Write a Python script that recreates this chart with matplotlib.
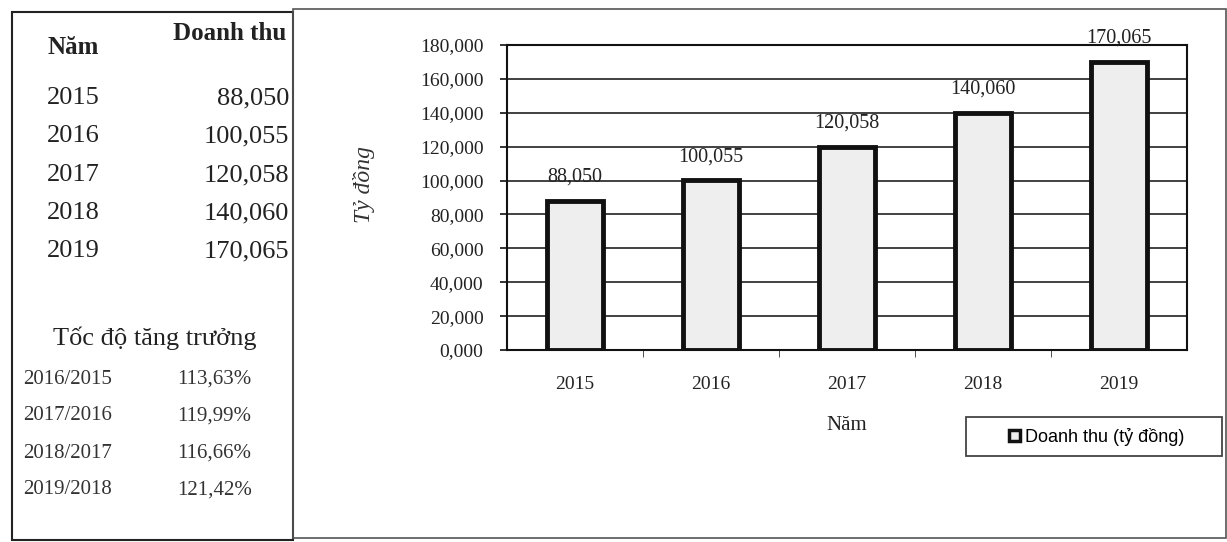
import matplotlib
matplotlib.use("Agg")
import matplotlib.pyplot as plt
from matplotlib.patches import Rectangle
from matplotlib.ticker import FuncFormatter, MultipleLocator

years = ["2015", "2016", "2017", "2018", "2019"]
revenue = [88.050, 100.055, 120.058, 140.060, 170.065]
revenue_labels = ["88,050", "100,055", "120,058", "140,060", "170,065"]
growth_periods = ["2016/2015", "2017/2016", "2018/2017", "2019/2018"]
growth_labels = ["113,63%", "119,99%", "116,66%", "121,42%"]

W, H = 1227, 542
fig = plt.figure(figsize=(W / 100, H / 100), dpi=100)
fig.patch.set_facecolor("white")
serif = ["Liberation Serif", "DejaVu Serif"]
sans = ["Liberation Sans", "DejaVu Sans"]

def fx(x):
    return x / W

def fy(y):
    return 1 - y / H

# Panel borders
fig.patches.append(Rectangle((fx(12), fy(540)), fx(293) - fx(12), fy(12) - fy(540),
                             transform=fig.transFigure, fill=False, ec="#222", lw=1.5))
fig.patches.append(Rectangle((fx(293), fy(538)), fx(1226) - fx(293), fy(9) - fy(538),
                             transform=fig.transFigure, fill=False, ec="#555", lw=1.2))

# Left table
tc = "#222"
fig.text(fx(48), fy(47), "Năm", family=serif, fontsize=18, weight="bold", color=tc, va="center", ha="left")
fig.text(fx(286), fy(33), "Doanh thu", family=serif, fontsize=18, weight="bold", color=tc, va="center", ha="right")
row_y = [98, 136, 175, 213, 251]
for y, yr, lab in zip(row_y, years, revenue_labels):
    fig.text(fx(47), fy(y), yr, family=serif, fontsize=19, color=tc, va="center", ha="left")
    fig.text(fx(289), fy(y), lab, family=serif, fontsize=19, color=tc, va="center", ha="right")
fig.text(fx(155), fy(338), "Tốc độ tăng trưởng", family=serif, fontsize=19, color=tc, va="center", ha="center")
g_y = [379, 416, 453, 490]
for y, p, g in zip(g_y, growth_periods, growth_labels):
    fig.text(fx(23), fy(y), p, family=serif, fontsize=15, color="#333", va="center", ha="left")
    fig.text(fx(177), fy(y), g, family=serif, fontsize=15, color="#333", va="center", ha="left")

# Chart
ax = fig.add_axes([fx(507), fy(350), fx(1187) - fx(507), fy(45) - fy(350)])
x = list(range(len(years)))
bars = ax.bar(x, revenue, width=0.41, color="#eeeeee", edgecolor="#111", linewidth=3.5,
              label="Doanh thu (tỷ đồng)", zorder=3)
for xi, v, lab in zip(x, revenue, revenue_labels):
    ax.annotate(lab, (xi, v), xytext=(0, 17), textcoords="offset points",
                ha="center", va="center", family=serif, fontsize=14.5, color="#222", zorder=4)
ax.set_xlim(-0.5, len(years) - 0.5)
ax.set_ylim(0, 180)
ax.yaxis.set_major_locator(MultipleLocator(20))
ax.yaxis.set_major_formatter(FuncFormatter(lambda v, p: f"{v:.3f}".replace(".", ",")))
ax.grid(axis="y", color="#333", lw=1.3, zorder=1)
ax.set_axisbelow(True)
for s in ax.spines.values():
    s.set_color("#111")
    s.set_linewidth(1.5)
ax.set_xticks(x)
ax.set_xticklabels(years)
ax.set_xticks([i + 0.5 for i in range(len(years) - 1)], minor=True)
ax.tick_params(axis="x", which="major", length=0, pad=19)
ax.tick_params(axis="x", which="minor", length=5, direction="out", color="#333")
ax.tick_params(axis="y", length=5, direction="out", color="#111", width=1.2, pad=12)
for t in ax.get_xticklabels() + ax.get_yticklabels():
    t.set_family(serif)
    t.set_fontsize(14)
    t.set_color("#222")
ax.set_xlabel("Năm", family=serif, fontsize=15, color="#222", labelpad=16)
ax.set_ylabel("Tỷ đồng", family=serif, fontsize=17, style="italic", color="#333")
ax.yaxis.set_label_coords(fx(375), fy(185), transform=fig.transFigure)

# Legend box
fig.patches.append(Rectangle((fx(966), fy(456)), fx(1222) - fx(966), fy(417) - fy(456),
                             transform=fig.transFigure, fill=False, ec="#444", lw=1.3))
leg = fig.legend(handles=[bars], labels=["Doanh thu (tỷ đồng)"], loc="center",
                 bbox_to_anchor=(fx(1097), fy(437)), frameon=False,
                 prop={"family": sans, "size": 13}, handlelength=0.6, handleheight=0.6,
                 handletextpad=0.3, borderpad=0.3)
for h in leg.legend_handles:
    h.set_linewidth(2.5)

fig.savefig("out.png", dpi=100)
